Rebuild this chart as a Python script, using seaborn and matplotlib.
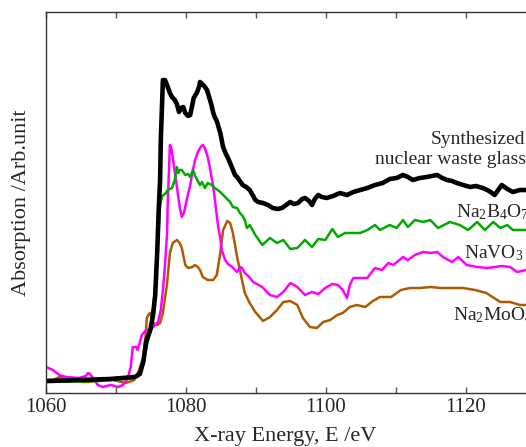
import numpy as np
import pandas as pd
import matplotlib
matplotlib.use("Agg")
import matplotlib.pyplot as plt
from matplotlib.ticker import MultipleLocator
import seaborn as sns

# ---------------- data ----------------
glass_E = [1060.0, 1064.9, 1069.1, 1072.7, 1073.4, 1073.9, 1074.3, 1074.9, 1075.3, 1075.6,
           1075.9, 1076.1, 1076.3, 1076.4, 1076.6, 1076.7, 1077.0, 1077.4, 1077.7, 1078.0,
           1078.4, 1078.7, 1079.0, 1079.3, 1079.6, 1079.9, 1080.3, 1080.6, 1080.9, 1081.1,
           1081.6, 1081.9, 1082.0, 1082.3, 1082.6, 1083.0, 1083.3, 1083.6, 1083.9, 1084.1,
           1084.4, 1084.9, 1085.3, 1085.7, 1086.0, 1086.6, 1087.0, 1087.3, 1087.7, 1088.1,
           1088.6, 1089.1, 1089.6, 1089.9, 1090.3, 1091.0, 1091.7, 1092.4, 1093.1, 1093.7,
           1094.3, 1094.9, 1095.4, 1096.0, 1096.6, 1097.0, 1097.6, 1098.0, 1098.4, 1098.9,
           1099.4, 1100.1, 1101.0, 1102.0, 1103.0, 1103.9, 1104.9, 1105.9, 1107.0, 1108.1,
           1109.1, 1110.1, 1111.0, 1111.7, 1112.4, 1113.4, 1114.4, 1115.1, 1115.9, 1116.6,
           1117.3, 1118.0, 1118.7, 1119.6, 1120.6, 1121.4, 1122.4, 1123.3, 1124.1, 1125.1,
           1125.9, 1126.7, 1127.7, 1128.6, 1130.0]
glass_A = [0.12, 0.13, 0.14, 0.16, 0.19, 0.31, 0.51, 0.63, 0.78, 0.98,
           1.43, 1.83, 2.13, 2.53, 2.93, 3.13, 3.13, 3.06, 3.00, 2.96,
           2.93, 2.89, 2.81, 2.85, 2.86, 2.80, 2.77, 2.78, 2.88, 2.95,
           3.01, 3.07, 3.11, 3.09, 3.07, 3.03, 2.96, 2.89, 2.80, 2.76,
           2.72, 2.60, 2.46, 2.39, 2.35, 2.25, 2.18, 2.16, 2.12, 2.08,
           2.06, 2.03, 1.97, 1.93, 1.91, 1.90, 1.88, 1.85, 1.84, 1.85,
           1.88, 1.91, 1.89, 1.90, 1.94, 1.95, 1.92, 1.88, 1.94, 1.98,
           1.96, 1.95, 1.97, 2.00, 1.98, 2.01, 2.03, 2.05, 2.08, 2.10,
           2.14, 2.15, 2.18, 2.16, 2.13, 2.15, 2.16, 2.17, 2.18, 2.15,
           2.13, 2.12, 2.10, 2.08, 2.06, 2.07, 2.05, 2.02, 1.98, 2.08,
           2.04, 2.01, 2.03, 2.03, 2.02]

borax_E = [1060.0, 1067.7, 1072.7, 1073.4, 1074.1, 1074.9, 1075.6, 1076.0, 1076.3, 1076.6,
           1077.0, 1077.4, 1078.0, 1078.4, 1078.7, 1078.9, 1079.1, 1079.4, 1079.9, 1080.3,
           1080.6, 1081.0, 1081.3, 1081.6, 1082.0, 1082.3, 1082.7, 1083.1, 1083.7, 1084.1,
           1084.9, 1085.6, 1086.3, 1086.7, 1087.3, 1087.7, 1088.1, 1088.4, 1088.7, 1089.1,
           1089.9, 1090.9, 1092.0, 1093.0, 1093.9, 1094.9, 1095.9, 1097.0, 1098.0, 1098.9,
           1099.9, 1100.9, 1101.7, 1102.7, 1104.9, 1105.9, 1107.0, 1107.7, 1109.1, 1110.1,
           1111.0, 1111.7, 1112.7, 1113.9, 1114.9, 1116.0, 1117.7, 1119.1, 1120.3, 1121.6,
           1122.7, 1123.9, 1124.9, 1125.9, 1126.7, 1128.6, 1130.0]
borax_A = [0.11, 0.12, 0.15, 0.20, 0.38, 0.63, 1.03, 1.53, 1.88, 1.97,
           1.99, 2.03, 2.05, 2.13, 2.26, 2.20, 2.23, 2.23, 2.18, 2.19,
           2.16, 2.23, 2.17, 2.13, 2.08, 2.11, 2.05, 2.10, 2.08, 2.05,
           2.01, 1.96, 1.91, 1.86, 1.85, 1.80, 1.77, 1.73, 1.65, 1.68,
           1.58, 1.48, 1.55, 1.50, 1.53, 1.44, 1.45, 1.53, 1.46, 1.54,
           1.53, 1.64, 1.56, 1.60, 1.60, 1.63, 1.68, 1.63, 1.68, 1.65,
           1.73, 1.66, 1.73, 1.71, 1.73, 1.65, 1.71, 1.68, 1.63, 1.71,
           1.63, 1.71, 1.65, 1.68, 1.63, 1.63, 1.63]

navo3_E = [1060.0, 1061.0, 1061.9, 1062.9, 1064.7, 1065.7, 1066.0, 1066.3, 1066.7, 1067.4,
           1068.1, 1068.6, 1069.3, 1070.3, 1071.0, 1071.7, 1072.1, 1072.4, 1072.9, 1073.1,
           1073.7, 1074.3, 1074.9, 1075.3, 1075.6, 1076.0, 1076.4, 1076.7, 1077.0, 1077.3,
           1077.4, 1077.6, 1077.7, 1077.9, 1078.1, 1078.4, 1078.7, 1079.1, 1079.4, 1079.7,
           1080.1, 1080.6, 1080.9, 1081.3, 1081.7, 1082.1, 1082.4, 1082.7, 1083.1, 1083.4,
           1083.9, 1084.3, 1084.6, 1084.9, 1085.1, 1085.6, 1086.0, 1086.6, 1087.3, 1087.7,
           1088.0, 1088.4, 1088.9, 1089.6, 1090.9, 1092.0, 1093.0, 1093.9, 1094.9, 1095.9,
           1097.0, 1098.0, 1098.9, 1099.9, 1100.9, 1101.7, 1102.4, 1103.0, 1103.4, 1103.9,
           1104.9, 1105.9, 1107.0, 1108.0, 1108.9, 1109.6, 1111.0, 1111.7, 1112.7, 1113.9,
           1114.9, 1115.9, 1116.7, 1118.0, 1118.9, 1120.1, 1121.6, 1123.0, 1124.1, 1125.1,
           1126.3, 1127.3, 1128.6, 1130.0]
navo3_A = [0.26, 0.23, 0.18, 0.16, 0.15, 0.17, 0.20, 0.19, 0.15, 0.08,
           0.06, 0.07, 0.08, 0.06, 0.08, 0.15, 0.26, 0.46, 0.46, 0.43,
           0.58, 0.63, 0.63, 0.66, 0.68, 0.71, 0.83, 1.03, 1.28, 1.60,
           1.93, 2.28, 2.48, 2.45, 2.36, 2.21, 2.06, 1.86, 1.76, 1.80,
           1.93, 2.08, 2.20, 2.33, 2.41, 2.46, 2.48, 2.45, 2.36, 2.26,
           2.06, 1.83, 1.66, 1.55, 1.43, 1.33, 1.29, 1.26, 1.21, 1.26,
           1.25, 1.20, 1.17, 1.11, 1.06, 0.98, 0.96, 1.01, 1.10, 1.06,
           0.98, 1.01, 0.99, 1.05, 1.09, 1.08, 1.03, 0.95, 1.08, 1.15,
           1.15, 1.15, 1.25, 1.23, 1.30, 1.28, 1.36, 1.33, 1.38, 1.41,
           1.40, 1.41, 1.36, 1.31, 1.36, 1.28, 1.26, 1.25, 1.26, 1.27,
           1.26, 1.21, 1.23, 1.23]

namoo4_E = [1060.0, 1061.0, 1061.9, 1062.6, 1063.9, 1065.3, 1066.1, 1067.6, 1069.6, 1071.4,
            1072.6, 1073.3, 1073.9, 1074.3, 1074.4, 1074.7, 1074.9, 1075.3, 1075.9, 1076.3,
            1076.7, 1077.3, 1077.7, 1078.1, 1078.7, 1079.1, 1079.4, 1079.9, 1080.3, 1080.9,
            1081.3, 1081.7, 1082.0, 1082.4, 1083.1, 1083.9, 1084.4, 1084.9, 1085.3, 1085.9,
            1086.3, 1086.7, 1087.3, 1087.7, 1088.4, 1089.1, 1089.9, 1091.0, 1092.0, 1093.0,
            1093.9, 1094.9, 1095.9, 1096.7, 1097.7, 1098.7, 1099.6, 1100.6, 1101.6, 1102.4,
            1103.4, 1104.4, 1105.6, 1106.7, 1107.7, 1109.3, 1110.7, 1112.0, 1113.4, 1115.0,
            1116.3, 1118.1, 1119.6, 1121.3, 1122.9, 1124.9, 1126.3, 1127.7, 1128.6, 1130.0]
namoo4_A = [0.13, 0.13, 0.16, 0.15, 0.13, 0.11, 0.11, 0.13, 0.13, 0.10,
            0.13, 0.23, 0.36, 0.63, 0.75, 0.79, 0.80, 0.70, 0.68, 0.70,
            0.80, 1.10, 1.40, 1.50, 1.53, 1.50, 1.45, 1.28, 1.25, 1.26,
            1.28, 1.26, 1.23, 1.16, 1.13, 1.13, 1.18, 1.40, 1.63, 1.72,
            1.70, 1.60, 1.36, 1.23, 1.00, 0.90, 0.81, 0.72, 0.76, 0.83,
            0.91, 0.92, 0.88, 0.75, 0.66, 0.65, 0.71, 0.73, 0.78, 0.80,
            0.86, 0.88, 0.86, 0.92, 0.96, 0.96, 1.03, 1.05, 1.05, 1.06,
            1.05, 1.05, 1.05, 1.03, 1.00, 0.91, 0.91, 0.88, 0.88, 0.88]

labels = ["Synthesized", "nuclear waste glass", r"Na$_2$B$_4$O$_7$", r"NaVO$_3$", r"Na$_2$MoO$_4$"]
colors = ["#000000", "#00aa00", "#ff00ff", "#b05a00"]

# ---------------- style ----------------
sns.set_style("ticks")
plt.rcParams["font.family"] = ["Liberation Serif", "DejaVu Serif"]
plt.rcParams["mathtext.fontset"] = "custom"
plt.rcParams["mathtext.rm"] = "Liberation Serif"
plt.rcParams["mathtext.it"] = "Liberation Serif:italic"
plt.rcParams["mathtext.default"] = "regular"

fig = plt.figure(figsize=(5.26, 4.47), dpi=100)
ax = fig.add_axes([46 / 526, 54 / 447, 490 / 526, 381 / 447])

series = [
    (namoo4_E, namoo4_A, colors[3], 1.8),
    (navo3_E, navo3_A, colors[2], 1.8),
    (borax_E, borax_A, colors[1], 1.8),
    (glass_E, glass_A, colors[0], 3.3),
]
for E, A, c, lw in series:
    df = pd.DataFrame({"E": E, "A": A})
    sns.lineplot(data=df, x="E", y="A", ax=ax, color=c, linewidth=lw,
                 sort=False, estimator=None)

ax.set_xlim(1060, 1130)
ax.set_ylim(0, 3.81)

ax.xaxis.set_major_locator(MultipleLocator(20))
ax.xaxis.set_minor_locator(MultipleLocator(10))
ax.tick_params(axis="x", which="both", direction="in", top=True, bottom=True,
               length=4, width=1, color="#555555", labelsize=15)
ax.tick_params(axis="y", which="both", left=False, labelleft=False)
for s in ["left", "top", "bottom"]:
    ax.spines[s].set_color("#333333")
    ax.spines[s].set_linewidth(1)
ax.spines["right"].set_visible(False)

ax.set_xlabel("X-ray Energy, E /eV", fontsize=16)
ax.set_ylabel("Absorption /Arb.unit", fontsize=16)
ax.xaxis.set_label_coords(0.489, -0.088)
ax.yaxis.set_label_coords(-0.031, 0.5)

ax.text(1128.4, 2.53, labels[0], fontsize=14, ha="right", va="center")
ax.text(1107.0, 2.33, labels[1], fontsize=14, ha="left", va="center")
ax.text(1118.6, 1.81, labels[2], fontsize=14, ha="left", va="center")
ax.text(1119.7, 1.40, labels[3], fontsize=14, ha="left", va="center")
ax.text(1118.1, 0.78, labels[4], fontsize=14, ha="left", va="center")

fig.savefig("out.png", dpi=100)
